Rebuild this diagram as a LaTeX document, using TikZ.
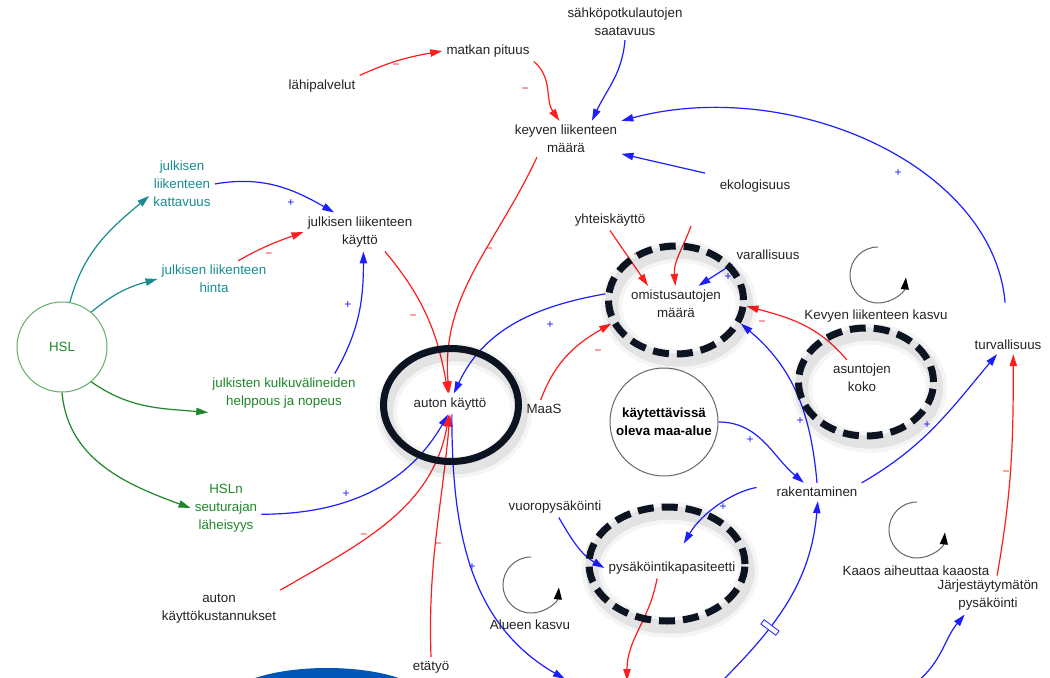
\documentclass[tikz,border=0pt]{standalone}
\usepackage{fontspec}
\setmainfont{Liberation Sans}
\usetikzlibrary{arrows.meta,shapes.geometric}
\pgfdeclarelayer{front}
\pgfsetlayers{main,front}

\definecolor{ink}{RGB}{35,35,35}
\definecolor{cldred}{RGB}{255,30,30}
\definecolor{cldblue}{RGB}{30,30,255}
\definecolor{cldteal}{RGB}{25,140,145}
\definecolor{cldgreen}{RGB}{30,135,40}
\definecolor{hslgreen}{RGB}{95,175,105}
\definecolor{ringink}{RGB}{12,20,34}
\definecolor{banner}{RGB}{0,86,184}

\tikzset{
  cvar/.style={font=\fontsize{10}{13.5}\selectfont, align=center, text=ink, inner sep=3pt},
  tealvar/.style={cvar, text=cldteal},
  grnvar/.style={cvar, text=cldgreen},
  hslnode/.style={circle, draw=hslgreen, line width=0.75pt, minimum size=67.5pt, inner sep=0pt, font=\fontsize{10}{12}\selectfont, text=cldgreen},
  maanode/.style={circle, draw=black!60, line width=0.75pt, minimum size=81pt, inner sep=0pt, align=center, font=\bfseries\fontsize{10}{13.5}\selectfont, text=black},
  lnk/.style={line width=0.9pt, -{Triangle[length=9pt,width=5.5pt]}},
  redarr/.style={lnk, draw=cldred},
  bluearr/.style={lnk, draw=cldblue},
  tealarr/.style={lnk, draw=cldteal},
  grnarr/.style={lnk, draw=cldgreen},
  plussign/.style={font=\fontsize{9}{9}\selectfont, text=cldblue, inner sep=0pt},
  minussign/.style={font=\fontsize{9}{9}\selectfont, text=cldred, inner sep=0pt},
  ringshadow/.style={ellipse, inner sep=0pt, draw=black, draw opacity=.07, line width=10pt,
    preaction={draw=black, draw opacity=.04, line width=16pt}},
  dashring/.style={ellipse, inner sep=0pt, draw=ringink, line width=5.25pt, dash pattern=on 12pt off 6pt},
  solidring/.style={ellipse, inner sep=0pt, draw=ringink, line width=5.25pt},
  loopline/.style={draw=black!60, line width=0.75pt, -{Triangle[length=9pt,width=6pt,color=black]}},
  delaymark/.style={draw=cldblue, fill=white, line width=0.6pt, inner sep=0pt, minimum width=4pt, minimum height=14pt},
}

\begin{document}
\begin{tikzpicture}[x=0.75pt,y=-0.75pt]
\path[use as bounding box, fill=white] (0,0) rectangle (1050,678);

% bottom banner
\begin{scope}
\clip (0,0) rectangle (1050,678);
\fill[banner] (327,701) ellipse [x radius=100, y radius=33];
\end{scope}

% Text Nodes
\node[cvar] (sahko) at (625,22) {sähköpotkulautojen\\saatavuus};
\node[cvar] (matka) at (488,51) {matkan pituus};
\node[cvar] (lahi) at (322,86) {lähipalvelut};
\node[cvar] (kevyt) at (566,139) {keyven liikenteen\\määrä};
\node[cvar] (ekolog) at (755,186) {ekologisuus};
\node[tealvar] (kattav) at (182,184) {julkisen\\liikenteen\\kattavuus};
\node[cvar] (jlkaytto) at (360,232) {julkisen liikenteen\\käyttö};
\node[tealvar] (hinta) at (214,279) {julkisen liikenteen\\hinta};
\node[hslnode] (hsl) at (62,347) {HSL};
\node[grnvar] (helppous) at (284,393) {julkisten kulkuvälineiden\\helppous ja nopeus};
\node[cvar] (auto) at (450,404) {auton käyttö};
\node[cvar] (maas) at (544,409) {MaaS};
\node[cvar] (yhteis) at (610,220) {yhteiskäyttö};
\node[cvar] (varall) at (768,255) {varallisuus};
\node[cvar] (omist) at (676,304) {omistusautojen\\määrä};
\node[cvar] (asunto) at (862,378) {asuntojen\\koko};
\node[cvar] (turva) at (1008,345) {turvallisuus};
\node[maanode] (maa) at (664,422) {käytettävissä\\oleva maa-alue};
\node[cvar] (rakent) at (817,492) {rakentaminen};
\node[cvar] (vuoro) at (555,507) {vuoropysäköinti};
\node[cvar] (pysak) at (672,568) {pysäköintikapasiteetti};
\node[grnvar] (hsln) at (226,508) {HSLn\\seuturajan\\läheisyys};
\node[cvar] (kustann) at (219,609) {auton\\käyttökustannukset};
\node[cvar] (etatyo) at (431,667) {etätyö};
\node[cvar] (jarj) at (988,595) {Järjestäytymätön\\pysäköinti};

% Rings and their shadows
\begin{pgfonlayer}{front}
\node[ringshadow, minimum width=101.25pt, minimum height=84.75pt] (autoShade) at (454,411) {};
\node[ringshadow, minimum width=101.25pt, minimum height=81pt] (omistShade) at (679,306) {};
\node[ringshadow, minimum width=101.25pt, minimum height=81pt] (asuntoShade) at (869,388) {};
\node[ringshadow, minimum width=117pt, minimum height=85.5pt] (pysakShade) at (670,570) {};
\node[solidring, minimum width=101.25pt, minimum height=84.75pt] (autoRing) at (451,405) {};
\node[dashring, minimum width=101.25pt, minimum height=81pt] (omistRing) at (676,300) {};
\node[dashring, minimum width=101.25pt, minimum height=81pt] (asuntoRing) at (866,382) {};
\node[dashring, minimum width=117pt, minimum height=85.5pt] (pysakRing) at (667,564) {};
\end{pgfonlayer}

% free ends
\coordinate (ekoTail) at (691,226);
\coordinate (outA) at (565,679);
\coordinate (outB) at (627,681);
\coordinate (outC) at (722,681);
\coordinate (outD) at (918,681);

% kevyt liikenne
\draw[redarr] (lahi.north east) to[out=25,in=190] (matka.west);
\draw[redarr] (matka.south east) to[out=-40,in=125] (kevyt.110);
\draw[bluearr] (sahko.south) to[out=-95,in=65] (kevyt.35);
\draw[bluearr, shorten <=25pt] (turva.north) to[out=95,in=15] (kevyt.north east);
\draw[bluearr, shorten <=8pt] (ekolog.north west) -- (kevyt.-15);
\draw[redarr] (kevyt.-148) to[out=-115,in=95] (auto.95);

% julkinen liikenne
\draw[bluearr] (kattav.east) to[out=10,in=150] (jlkaytto.143);
\draw[redarr] (hinta.37) to[out=30,in=200] (jlkaytto.west);
\draw[bluearr] (helppous.21) to[out=60,in=-90] (jlkaytto.-80);
\draw[redarr] (jlkaytto.-38) to[out=-50,in=100] (auto.100);

% HSL
\draw[tealarr] (hsl.80) to[out=75,in=220] (kattav.200);
\draw[tealarr] (hsl.50) to[out=40,in=195] (hinta.west);
\draw[grnarr] (hsl.-50) to[out=-35,in=175] (helppous.south west);
\draw[grnarr] (hsl.south) to[out=-85,in=160] (hsln.west);

% auton kaytto
\draw[bluearr] (hsln.-10) to[out=0,in=-120] (auto.-100);
\draw[redarr] (kustann.north east) to[out=30,in=-100] (auto.-95);
\draw[redarr] (etatyo.north) to[out=92,in=-95] (auto.-90);
\draw[bluearr] (auto.-80) to[out=-90,in=150] (outA);

% omistusautot
\draw[bluearr] (omistRing.175) to[out=190,in=65] (auto.70);
\draw[redarr] (maas.110) to[out=70,in=210] (omistRing.200);
\draw[redarr] (yhteis.south) -- (omist.147);
\draw[redarr] (ekoTail) to[out=-110,in=95] (omist.92);
\draw[bluearr] (varall.south west) -- (omist.39);
\draw[redarr] (asunto.130) to[out=130,in=-15] (omistRing.-5);
\draw[bluearr] (rakent.north) to[out=95,in=-40] (omistRing.-20);

% rakentaminen
\draw[bluearr] (maa.east) to[out=0,in=140] (rakent.145);
\draw[bluearr] (rakent.north east) to[out=30,in=-130] (turva.-140);
\draw[bluearr, shorten <=20pt, shorten >=12pt] (rakent.165) to[out=190,in=60] (pysak.70);
\draw[bluearr] (vuoro.-70) to[out=-60,in=150] (pysak.west);
\draw[redarr] (pysak.-145) to[out=-100,in=90] (outB);
\draw[bluearr] (outC) to[out=45,in=-95] node[delaymark, pos=.33, sloped] (dly) {} (rakent.-85);
\draw[bluearr] (outD) to[out=40,in=-130] (jarj.-140);
\draw[redarr] (jarj.65) to[out=80,in=-90] (turva.-60);

% polarity signs
\node[minussign] (s1) at (396,66) {−};
\node[minussign] (s2) at (525,90) {−};
\node[plussign] (s3) at (898,173) {+};
\node[minussign] (s4) at (489,250) {−};
\node[plussign] (s5) at (291,203) {+};
\node[minussign] (s6) at (269,255) {−};
\node[plussign] (s7) at (348,305) {+};
\node[minussign] (s8) at (413,317) {−};
\node[plussign] (s9) at (346,494) {+};
\node[minussign] (s10) at (364,536) {−};
\node[minussign] (s11) at (438,545) {−};
\node[plussign] (s12) at (472,567) {+};
\node[plussign] (s13) at (550,325) {+};
\node[minussign] (s14) at (598,352) {−};
\node[minussign] (s15) at (637,256) {−};
\node[minussign] (s16) at (696,248) {−};
\node[plussign] (s17) at (728,277) {+};
\node[minussign] (s18) at (762,323) {−};
\node[plussign] (s19) at (800,421) {+};
\node[plussign] (s20) at (750,440) {+};
\node[plussign] (s21) at (927,425) {+};
\node[plussign] (s22) at (723,507) {+};
\node[minussign] (s23) at (645,624) {−};
\node[minussign] (s24) at (1006,473) {−};

% loops
\coordinate (loopKev) at (878,275);
\draw[loopline] ([yshift=21pt]loopKev) arc[start angle=90, end angle=355, radius=21pt];
\node[cvar] (kevkasvu) at (876,316) {Kevyen liikenteen kasvu};
\coordinate (loopAlu) at (531,585);
\draw[loopline] ([yshift=21pt]loopAlu) arc[start angle=90, end angle=355, radius=21pt];
\node[cvar] (alukasvu) at (530,625) {Alueen kasvu};
\coordinate (loopKaa) at (917,530);
\draw[loopline] ([yshift=21pt]loopKaa) arc[start angle=90, end angle=355, radius=21pt];
\node[cvar] (kaaos) at (916,571) {Kaaos aiheuttaa kaaosta};

\end{tikzpicture}
\end{document}
